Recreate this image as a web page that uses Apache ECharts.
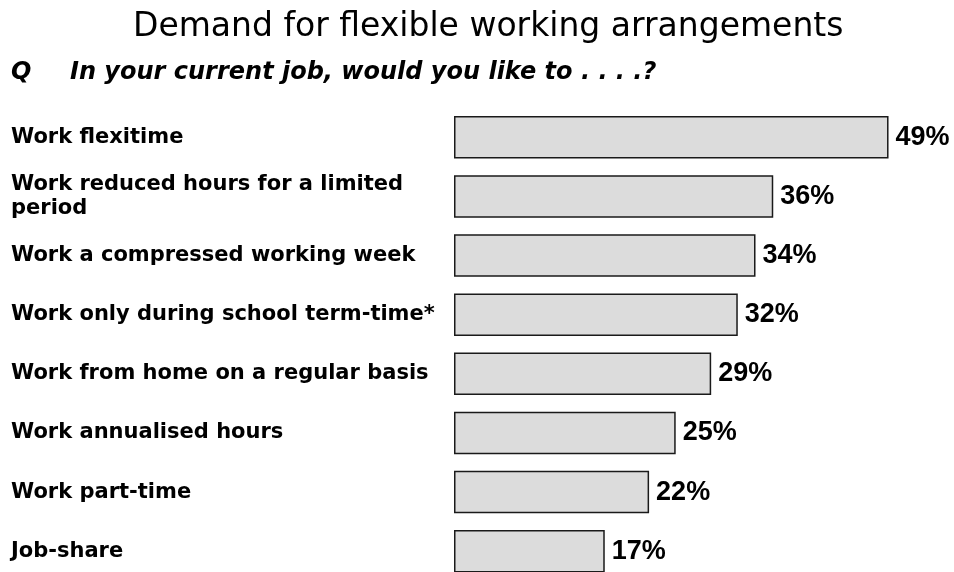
<!DOCTYPE html>
<html>
<head>
<meta charset="utf-8">
<script src="https://cdn.jsdelivr.net/npm/echarts@6/dist/echarts.min.js"></script>
<style>
html,body{margin:0;padding:0;background:#fff;overflow:hidden;width:954px;height:572px;}
#chart{width:954px;height:600px;}
</style>
</head>
<body>
<div id="chart"></div>
<script>
var titleText = 'Demand for flexible working arrangements';
var questionMark = 'Q';
var questionText = 'In your current job, would you like to . . . .?';
var categories = [
  'Work flexitime',
  'Work reduced hours for a limited\nperiod',
  'Work a compressed working week',
  'Work only during school term-time*',
  'Work from home on a regular basis',
  'Work annualised hours',
  'Work part-time',
  'Job-share'
];
var values = [49, 36, 34, 32, 29, 25, 22, 17];

var chart = echarts.init(document.getElementById('chart'), null, {renderer: 'canvas'});
chart.setOption({
  backgroundColor: '#ffffff',
  animation: false,
  title: [
    {
      text: titleText, left: 133, top: 11, padding: 0,
      textStyle: {fontFamily: 'DejaVu Sans', fontSize: 33, fontWeight: 'normal', color: '#000'}
    },
    {
      text: questionMark, left: 11, top: 61, padding: 0,
      textStyle: {fontFamily: 'DejaVu Sans', fontSize: 24, fontWeight: 'bold', fontStyle: 'italic', color: '#000'}
    },
    {
      text: questionText, left: 70, top: 61, padding: 0,
      textStyle: {fontFamily: 'DejaVu Sans', fontSize: 24, fontWeight: 'bold', fontStyle: 'italic', color: '#000'}
    }
  ],
  grid: {left: 454, top: 107.7, width: 443.4, height: 473.1, containLabel: false},
  xAxis: {type: 'value', min: 0, max: 50, show: false},
  yAxis: {
    type: 'category', inverse: true, data: categories,
    axisLine: {show: false}, axisTick: {show: false}, splitLine: {show: false},
    axisLabel: {
      interval: 0, align: 'left', margin: 443,
      fontFamily: 'DejaVu Sans', fontWeight: 'bold', fontSize: 21, lineHeight: 24, color: '#000'
    }
  },
  series: [{
    type: 'bar', data: values, barWidth: 42.5,
    itemStyle: {color: '#dcdcdc', borderColor: '#1a1a1a', borderWidth: 1.5},
    label: {
      show: true, position: 'right', distance: 7, formatter: '{c}%',
      fontFamily: 'Liberation Sans', fontWeight: 'bold', fontSize: 27, color: '#000'
    }
  }]
});
</script>
</body>
</html>
